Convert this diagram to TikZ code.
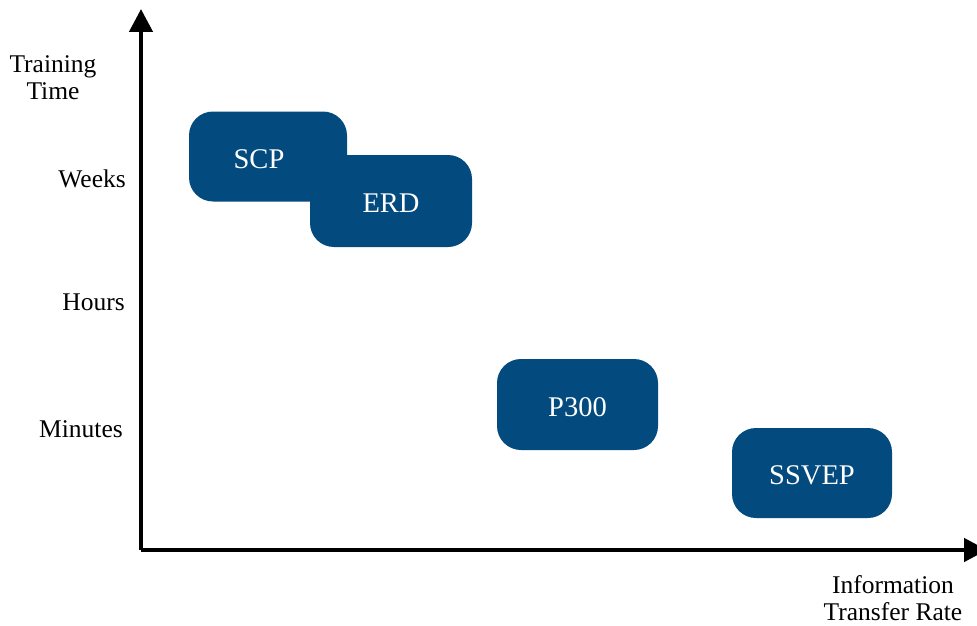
\documentclass[tikz,border=0pt]{standalone}
\usepackage{fontspec}
\setmainfont{Liberation Serif}
\usetikzlibrary{arrows.meta}
\definecolor{boxblue}{RGB}{3,74,127}
\newcommand{\boxtext}[1]{\raisebox{-2.5pt}[\height][\depth]{#1}}
\tikzset{
  method/.style={fill=boxblue, rounded corners=24pt, text=white,
    minimum width=#1, font=\fontsize{28.5}{33}\selectfont, inner sep=0pt},
  method/.default=158pt,
  axis/.style={line width=4.5pt, -{Triangle[length=23pt,width=23pt]}},
  axlabel/.style={font=\fontsize{25.5}{27}\selectfont, text=black, align=center, inner sep=0pt},
}
\begin{document}
\begin{tikzpicture}[x=1pt,y=-1pt]
\useasboundingbox (0,0) rectangle (977,626);
\clip (0,0) rectangle (977,626);

% axes
\coordinate (origin) at (141,550);
\coordinate (ytop) at (141,9);
\coordinate (xend) at (987,550);
\draw[axis] (origin) -- (ytop);
\draw[axis] (origin) -- (xend);

% axis titles
\node[axlabel] (ytitle) at (53,78) {Training\\Time};
\node[axlabel] (xtitle) at (893,598) {Information\\Transfer Rate};

% tick labels
\node[axlabel, anchor=east] (weeks) at (126,179) {Weeks};
\node[axlabel, anchor=east] (hours) at (125,302) {Hours};
\node[axlabel, anchor=east] (minutes) at (123,429) {Minutes};

% paradigms
\node[method=158pt, minimum height=90pt] (scp) at (268,156.5) {\hspace*{-18pt}\boxtext{SCP}};
\node[method=162pt, minimum height=92pt] (erd) at (391,201) {\boxtext{ERD}};
\node[method=161pt, minimum height=91pt] (p300) at (577.5,404.5) {\boxtext{P300}};
\node[method=160pt, minimum height=90pt] (ssvep) at (812,473) {\boxtext{SSVEP}};
\end{tikzpicture}
\end{document}
